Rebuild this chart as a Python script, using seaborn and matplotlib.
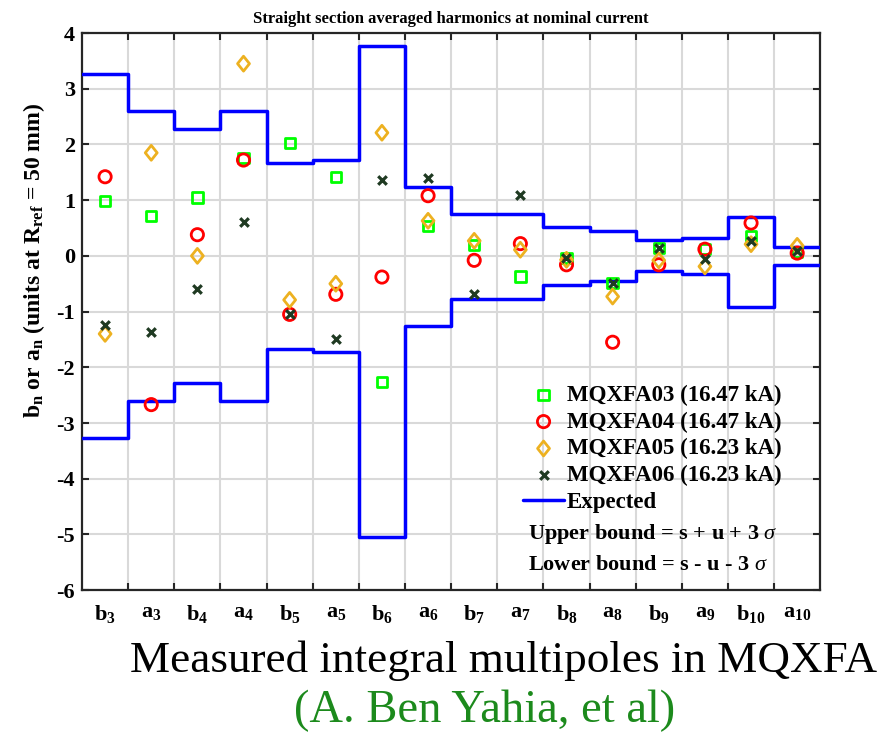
import numpy as np
import matplotlib
matplotlib.use("Agg")
import matplotlib.pyplot as plt
from matplotlib.ticker import FixedLocator
from matplotlib.path import Path
import seaborn as sns

# harmonic names (b = normal, a = skew)
harmonics = ['b3', 'a3', 'b4', 'a4', 'b5', 'a5', 'b6', 'a6',
             'b7', 'a7', 'b8', 'a8', 'b9', 'a9', 'b10', 'a10']

# measured values, units at R_ref = 50 mm
mqxfa03 = [0.99, 0.72, 1.05, 1.76, 2.02, 1.42, -2.27, 0.53,
           0.20, -0.37, -0.04, -0.49, 0.14, 0.12, 0.36, 0.07]
mqxfa04 = [1.42, -2.67, 0.38, 1.72, -1.05, -0.69, -0.38, 1.08,
           -0.08, 0.22, -0.16, -1.55, -0.16, 0.12, 0.59, 0.05]
mqxfa05 = [-1.40, 1.85, 0.00, 3.45, -0.79, -0.50, 2.21, 0.63,
           0.27, 0.11, -0.07, -0.73, -0.08, -0.19, 0.21, 0.18]
mqxfa06 = [-1.24, -1.37, -0.60, 0.60, -1.05, -1.49, 1.36, 1.40,
           -0.68, 1.09, -0.04, -0.48, 0.14, -0.06, 0.27, 0.08]

# expected bounds
upper_bound = [3.27, 2.60, 2.28, 2.60, 1.67, 1.72, 3.76, 1.24,
               0.76, 0.76, 0.51, 0.44, 0.29, 0.32, 0.69, 0.16]
lower_bound = [-3.27, -2.60, -2.28, -2.60, -1.68, -1.72, -5.04, -1.25,
               -0.77, -0.77, -0.52, -0.46, -0.28, -0.32, -0.91, -0.16]

# matlab-like diamond, wider than the 'd' marker
diamond = Path([(0, 1), (0.8, 0), (0, -1), (-0.8, 0), (0, 1)],
               [Path.MOVETO, Path.LINETO, Path.LINETO, Path.LINETO, Path.CLOSEPOLY])

series = [
    ('MQXFA03 (16.47 kA)', mqxfa03, 's', '#00FF00', 55),
    ('MQXFA04 (16.47 kA)', mqxfa04, 'o', '#FF0000', 78),
    ('MQXFA05 (16.23 kA)', mqxfa05, diamond, '#EDB120', 115),
    ('MQXFA06 (16.23 kA)', mqxfa06, 'x', '#1F3A22', 38),
]

sns.set_style('white')
plt.rcParams['font.family'] = ['Liberation Serif', 'DejaVu Serif']
plt.rcParams['mathtext.fontset'] = 'custom'
plt.rcParams['mathtext.rm'] = 'Liberation Serif'
plt.rcParams['mathtext.bf'] = 'Liberation Serif:bold'
plt.rcParams['mathtext.it'] = 'Liberation Serif:italic'
for key in ['text.color', 'axes.labelcolor', 'xtick.color', 'ytick.color']:
    plt.rcParams[key] = 'black'

fig = plt.figure(figsize=(8.82, 7.34), dpi=100)
ax = fig.add_axes([0.093, 0.196, 0.837, 0.759])

pos = np.arange(1, len(harmonics) + 1)

for label, vals, marker, color, size in series:
    if isinstance(marker, str) and marker == 'x':
        sns.scatterplot(x=pos, y=vals, marker=marker, color=color, s=size,
                        linewidth=2.3, label=label, ax=ax, zorder=4)
    else:
        sns.scatterplot(x=pos, y=vals, marker=marker, s=size, facecolor='none',
                        edgecolor=color, linewidth=2, label=label, ax=ax, zorder=4)

# step lines spanning each harmonic slot
edges = np.append(pos - 0.5, pos[-1] + 0.5)
sns.lineplot(x=edges, y=np.append(upper_bound, upper_bound[-1]), drawstyle='steps-post',
             color='#0000FF', linewidth=2.5, label='Expected', sort=False, ax=ax, zorder=3)
sns.lineplot(x=edges, y=np.append(lower_bound, lower_bound[-1]), drawstyle='steps-post',
             color='#0000FF', linewidth=2.5, sort=False, ax=ax, zorder=3)

ax.set_xlim(0.5, 16.5)
ax.set_ylim(-6, 4)
ax.set_yticks(np.arange(-6, 5, 1))
ax.set_yticklabels([str(v) for v in range(-6, 5)], fontweight='bold', fontsize=16)

tick_labels = []
for h in harmonics:
    tick_labels.append(r'$\mathbf{%s}_{\mathbf{%s}}$' % (h[0], h[1:]))
ax.set_xticks(pos)
ax.set_xticklabels(tick_labels, fontsize=16)
ax.xaxis.set_minor_locator(FixedLocator(pos[:-1] + 0.5))

ax.tick_params(axis='x', which='major', length=0, pad=9)
ax.tick_params(axis='x', which='minor', direction='in', length=5, width=1.5,
               top=True, bottom=True, color='#262626')
ax.tick_params(axis='y', which='major', direction='in', length=5, width=1.5,
               left=True, right=True, color='#262626', pad=5)

ax.grid(False)
ax.grid(True, axis='x', which='minor', color='#D9D9D9', linewidth=1.5)
ax.grid(True, axis='y', which='major', color='#D9D9D9', linewidth=1.5)
ax.set_axisbelow(True)
for sp in ax.spines.values():
    sp.set_color('#262626')
    sp.set_linewidth(1.6)

ax.set_title('Straight section averaged harmonics at nominal current',
             fontsize=12, fontweight='bold', pad=7)
ax.set_ylabel(r'$\mathbf{b}_{\mathbf{n}}$ or $\mathbf{a}_{\mathbf{n}}$ (units at '
              r'$\mathbf{R}_{\mathbf{ref}}$ = 50 mm)', fontsize=17, fontweight='bold')
ax.yaxis.set_label_coords(-0.047, 0.592)

leg = ax.legend(loc='upper left', bbox_to_anchor=(0.598, 0.369), frameon=False,
                prop={'weight': 'bold', 'size': 16.5}, handlelength=1.75,
                handletextpad=0.15, labelspacing=0.25, borderpad=0, borderaxespad=0)

ax.text(0.604, 0.100, r'Upper bound = s + u + 3 $\sigma$', transform=ax.transAxes,
        fontsize=16, fontweight='bold', va='center', ha='left')
ax.text(0.604, 0.045, r'Lower bound = s - u - 3 $\sigma$', transform=ax.transAxes,
        fontsize=16, fontweight='bold', va='center', ha='left')

fig.text(0.571, 0.0845, 'Measured integral multipoles in MQXFA', fontsize=32.5,
         ha='center', va='baseline', color='black')
fig.text(0.549, 0.016, '(A. Ben Yahia, et al)', fontsize=33.5,
         ha='center', va='baseline', color='#1C8A1C')

fig.savefig('out.png', dpi=100)
